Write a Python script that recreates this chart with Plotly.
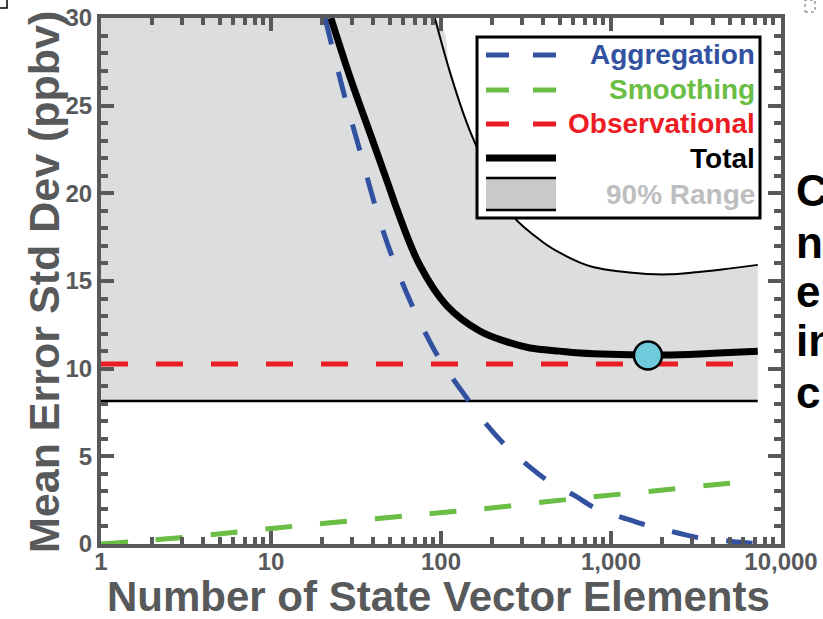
import plotly.graph_objects as go

# ---------------- data ----------------
agg_n = [20.8, 27.0, 33.4, 41, 51.5, 68.4, 96, 118, 146, 186, 238, 323, 426, 616, 805, 1191, 1674, 2477, 3360, 5130, 7300]
agg_v = [30.0, 25.6, 22.4, 19.3, 16.4, 13.5, 10.7, 9.4, 8.16, 6.8, 5.65, 4.5, 3.6, 2.74, 2.05, 1.48, 1.03, 0.63, 0.34, 0.15, 0.02]

smo_n = [1, 1.5, 2.35, 4.9, 10.4, 21.5, 46, 95, 196, 426, 880, 1900, 3900, 5440, 7300]
smo_v = [0.0, 0.12, 0.28, 0.57, 0.9, 1.2, 1.48, 1.77, 2.05, 2.42, 2.74, 3.05, 3.37, 3.5, 3.6]

obs_n = [1, 7300]
obs_v = [10.27, 10.27]

tot_n = [22.5, 29, 40, 49, 55, 75, 108, 169, 250, 334, 500, 657, 1000, 1628, 2500, 3340, 5000, 7300]
tot_v = [30.0, 26.7, 22.9, 20.5, 19.1, 15.9, 13.6, 12.15, 11.5, 11.18, 11.0, 10.9, 10.82, 10.78, 10.8, 10.84, 10.92, 11.0]

up_n = [92, 113, 142, 163, 200, 265, 400, 502, 657, 783, 1100, 1630, 2200, 3020, 4500, 7300]
up_v = [30.0, 26.9, 24.0, 22.6, 20.8, 18.7, 17.2, 16.6, 16.05, 15.8, 15.55, 15.4, 15.38, 15.48, 15.66, 15.92]

low_n = [1, 7300]
low_v = [8.16, 8.16]

best_n = [1650]
best_v = [10.75]

x_tickvals = [1, 10, 100, 1000, 10000]
x_ticktext = ["1", "10", "100", "1,000", "10,000"]
y_tickvals = [0, 5, 10, 15, 20, 25, 30]
y_ticktext = ["0", "5", "10", "15", "20", "25", "30"]

legend_names = ["Aggregation", "Smoothing", "Observational", "Total", "90% Range"]
side_text = ["C", "n", "e", "in", "c"]

# ---------------- style ----------------
W, H = 823, 619
L, R, T, B = 101, 42, 18, 75
PW, PH = W - L - R, H - T - B

BLUE = "#3252a1"
GREEN = "#6abd45"
RED = "#ec1c24"
FILL = "#dcdddf"
AXC = "#58595b"
SANS = "Liberation Sans, Arial, sans-serif"


def px(x):
    return (x - L) / PW


def py(y):
    return (H - B - y) / PH


fig = go.Figure()

# gray 90% range band
fill_x = [1] + up_n
fill_y = [30.0] + up_v
fig.add_trace(go.Scatter(x=low_n, y=low_v, mode="lines", line=dict(width=0, color=FILL),
                         showlegend=False, hoverinfo="skip"))
fig.add_trace(go.Scatter(x=fill_x, y=fill_y, mode="lines", line=dict(width=0, color=FILL, shape="spline"),
                         fill="tonexty", fillcolor=FILL, showlegend=False, hoverinfo="skip"))
# bounds
fig.add_trace(go.Scatter(x=low_n, y=low_v, mode="lines", line=dict(width=2.6, color="black"), showlegend=False))
fig.add_trace(go.Scatter(x=up_n, y=up_v, mode="lines", line=dict(width=2, color="black", shape="spline"),
                         showlegend=False))
# component curves
fig.add_trace(go.Scatter(x=obs_n, y=obs_v, mode="lines",
                         line=dict(width=5, color=RED, dash="27px,28px"), showlegend=False))
fig.add_trace(go.Scatter(x=smo_n, y=smo_v, mode="lines",
                         line=dict(width=5, color=GREEN, dash="27px,28px", shape="spline"), showlegend=False))
fig.add_trace(go.Scatter(x=agg_n, y=agg_v, mode="lines",
                         line=dict(width=5, color=BLUE, dash="27px,28px", shape="spline"), showlegend=False))
fig.add_trace(go.Scatter(x=tot_n, y=tot_v, mode="lines",
                         line=dict(width=7, color="black", shape="spline"), showlegend=False))
fig.add_trace(go.Scatter(x=best_n, y=best_v, mode="markers",
                         marker=dict(size=28, color="#6fcbdc", line=dict(width=2.5, color="black")),
                         showlegend=False, cliponaxis=False))

axis_common = dict(
    showline=True, linecolor=AXC, linewidth=4, mirror="ticks",
    ticks="inside", ticklen=13, tickwidth=3.5, tickcolor=AXC,
    showgrid=False, zeroline=False, automargin=False,
    tickfont=dict(family=SANS, size=24, color=AXC, weight="bold"),
)

minor_x = [m * 10 ** d for d in range(4) for m in range(2, 10)]
fig.update_xaxes(type="log", range=[0, 4], tickmode="array", tickvals=x_tickvals, ticktext=x_ticktext,
                 ticklabelstandoff=-7,
                 minor=dict(tickmode="array", tickvals=minor_x, ticks="inside", ticklen=7,
                            tickwidth=3.5, tickcolor=AXC, showgrid=False),
                 **axis_common)
fig.update_yaxes(range=[0, 30], tickmode="array", tickvals=y_tickvals, ticktext=y_ticktext,
                 minor=dict(dtick=1, ticks="inside", ticklen=7, tickwidth=3.5, tickcolor=AXC, showgrid=False),
                 **axis_common)

shapes = []
ann = []

# legend box
shapes.append(dict(type="rect", xref="paper", yref="paper", x0=px(477), x1=px(760), y0=py(218), y1=py(37),
                   line=dict(color="black", width=3), fillcolor="white", layer="above"))
rows_y = [55, 90, 124, 158, 194]
colors = [BLUE, GREEN, RED, "black", "#bcbec0"]
for i, yy in enumerate(rows_y[:3]):
    for a, b in [(486, 509), (533, 556)]:
        shapes.append(dict(type="line", xref="paper", yref="paper", x0=px(a), x1=px(b), y0=py(yy), y1=py(yy),
                           line=dict(color=colors[i], width=5), layer="above"))
shapes.append(dict(type="line", xref="paper", yref="paper", x0=px(486), x1=px(556), y0=py(158), y1=py(158),
                   line=dict(color="black", width=7), layer="above"))
shapes.append(dict(type="rect", xref="paper", yref="paper", x0=px(486), x1=px(556), y0=py(210), y1=py(178),
                   line=dict(width=0), fillcolor="#c8c9cb", layer="above"))
for yy in (178, 210):
    shapes.append(dict(type="line", xref="paper", yref="paper", x0=px(486), x1=px(556), y0=py(yy), y1=py(yy),
                       line=dict(color="black", width=2.5), layer="above"))
for name, yy, c in zip(legend_names, rows_y, colors):
    ann.append(dict(text=name, xref="paper", yref="paper", x=px(757), y=py(yy), xanchor="right", yanchor="middle",
                    showarrow=False, font=dict(family=SANS, size=28, color=c, weight="bold")))

# axis titles
ann.append(dict(text="Number of State Vector Elements", xref="paper", yref="paper", x=px(438), y=py(596),
                xanchor="center", yanchor="middle", showarrow=False,
                font=dict(family=SANS, size=42, color=AXC, weight="bold")))
ann.append(dict(text="Mean Error Std Dev (ppbv)", xref="paper", yref="paper", x=px(44), y=py(282),
                xanchor="center", yanchor="middle", textangle=-90, showarrow=False,
                font=dict(family=SANS, size=43, color=AXC, weight="bold")))

# cut-off text of neighbouring panel
for t, yy in zip(side_text, [190, 242, 291, 340, 392]):
    ann.append(dict(text=t, xref="paper", yref="paper", x=px(794), y=py(yy), xanchor="left", yanchor="middle",
                    showarrow=False, font=dict(family=SANS, size=44, color="black", weight="bold")))

# small corner marks
shapes.append(dict(type="path", xref="paper", yref="paper",
                   path=f"M {px(0)} {py(8)} L {px(7)} {py(8)} L {px(7)} {py(0)}",
                   line=dict(color="black", width=1.5), layer="above"))
shapes.append(dict(type="rect", xref="paper", yref="paper", x0=px(805), x1=px(815), y0=py(12), y1=py(0),
                   line=dict(color="#666", width=1, dash="dot"), layer="above"))

fig.update_layout(width=W, height=H, margin=dict(l=L, r=R, t=T, b=B, pad=0), autosize=False,
                  paper_bgcolor="white", plot_bgcolor="white", showlegend=False,
                  shapes=shapes, annotations=ann)

fig.write_html("out.html")
